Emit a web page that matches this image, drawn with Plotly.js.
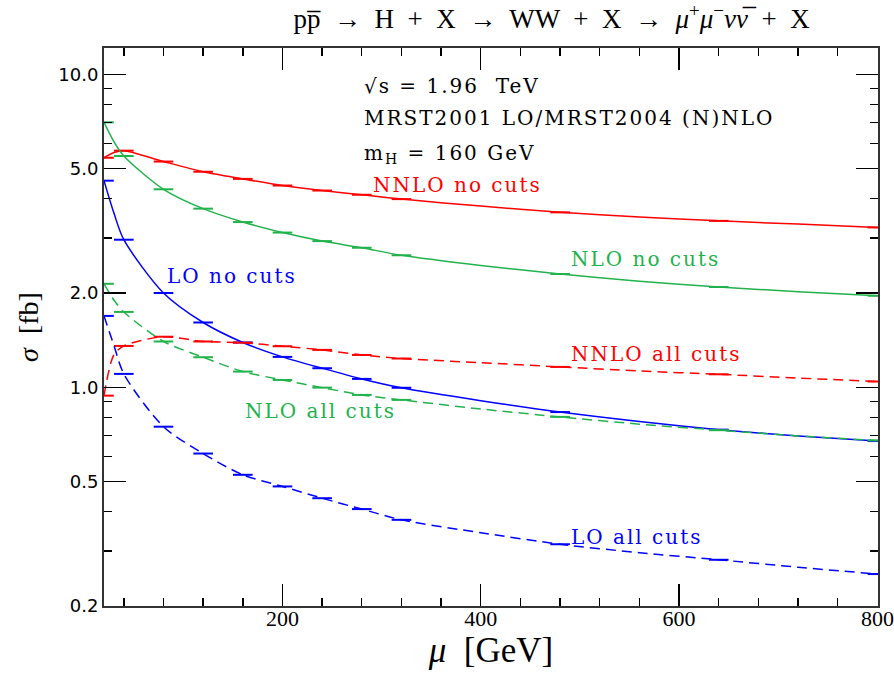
<!DOCTYPE html>
<html>
<head>
<meta charset="utf-8">
<script src="https://cdn.plot.ly/plotly-3.0.1.min.js"></script>
<style>
  html, body { margin: 0; padding: 0; background: #fff; }
  #chart { width: 894px; height: 677px; }
  .annotation-text { letter-spacing: 2px; }
</style>
</head>
<body>
<div id="chart"></div>
<script>
// renormalisation/factorisation scale mu [GeV]
const mu = [20, 30, 40, 80, 120, 160, 200, 240, 280, 320, 400, 480, 560, 640, 720, 800];
// scales at which Monte Carlo points are marked
const markerMu = [20, 40, 80, 120, 160, 200, 240, 280, 320, 480, 640, 800];

// cross sections sigma [fb]
const nnloNoCuts  = [5.41, 5.62, 5.70, 5.26, 4.88, 4.63, 4.41, 4.25, 4.12, 3.99, 3.79, 3.62, 3.50, 3.40, 3.32, 3.24];
const nloNoCuts   = [7.02, 6.09, 5.48, 4.29, 3.72, 3.37, 3.12, 2.93, 2.79, 2.64, 2.45, 2.30, 2.18, 2.09, 2.02, 1.96];
const loNoCuts    = [4.57, 3.60, 2.96, 2.00, 1.61, 1.39, 1.25, 1.15, 1.063, 0.996, 0.906, 0.833, 0.777, 0.732, 0.699, 0.673];
const nnloAllCuts = [0.94, 1.27, 1.355, 1.45, 1.40, 1.388, 1.352, 1.316, 1.268, 1.235, 1.198, 1.161, 1.127, 1.10, 1.07, 1.043];
const nloAllCuts  = [2.14, 1.90, 1.74, 1.40, 1.247, 1.122, 1.055, 0.997, 0.945, 0.911, 0.852, 0.804, 0.762, 0.729, 0.699, 0.676];
const loAllCuts   = [1.69, 1.36, 1.103, 0.748, 0.614, 0.525, 0.482, 0.442, 0.408, 0.377, 0.343, 0.315, 0.296, 0.281, 0.266, 0.253];

// axis ticks
const xTickVals = [200, 400, 600, 800];
const xTickText = ['200', '400', '600', '800'];
const xMinorVals = [40, 80, 120, 160, 240, 280, 320, 360, 440, 480, 520, 560, 640, 680, 720, 760];
const yTickVals = [0.2, 0.5, 1, 2, 5, 10];
const yTickText = ['0.2', '0.5', '1.0', '2.0', '5.0', '10.0'];
const yMinorVals = [0.3, 0.4, 0.6, 0.7, 0.8, 0.9, 3, 4, 6, 7, 8, 9];

// labels
const labels = [
  {text: 'NNLO no cuts', mu: 290, sigma: 4.43, color: 'red'},
  {text: 'NLO no cuts', mu: 490, sigma: 2.57, color: 'green'},
  {text: 'LO no cuts', mu: 82.5, sigma: 2.27, color: 'blue'},
  {text: 'NNLO all cuts', mu: 490, sigma: 1.277, color: 'red'},
  {text: 'NLO all cuts', mu: 161, sigma: 0.84, color: 'green'},
  {text: 'LO all cuts', mu: 490, sigma: 0.333, color: 'blue'}
];
const infoLines = [
  {text: '\u221As = 1.96 \u00a0TeV', mu: 281, sigma: 9.18},
  {text: 'MRST2001 LO/MRST2004 (N)NLO', mu: 281, sigma: 7.25},
  {text: 'm<sub>H</sub> = 160 GeV', mu: 281, sigma: 5.58}
];

const COLORS = {red: '#ff0000', green: '#22b24c', blue: '#0000ff'};

const series = [
  {y: nnloNoCuts, color: 'red', dash: 'solid'},
  {y: nloNoCuts, color: 'green', dash: 'solid'},
  {y: loNoCuts, color: 'blue', dash: 'solid'},
  {y: nnloAllCuts, color: 'red', dash: '10px,6px'},
  {y: nloAllCuts, color: 'green', dash: '10px,6px'},
  {y: loAllCuts, color: 'blue', dash: '10px,6px'}
];

const traces = [];
series.forEach(s => {
  traces.push({
    type: 'scatter', mode: 'lines', x: mu, y: s.y,
    line: {color: COLORS[s.color], width: 1.5, dash: s.dash, shape: 'spline', smoothing: 0.8},
    hoverinfo: 'skip', showlegend: false
  });
  const mx = [], my = [];
  mu.forEach((m, i) => { if (markerMu.includes(m)) { mx.push(m); my.push(s.y[i]); } });
  traces.push({
    type: 'scatter', mode: 'markers', x: mx, y: my,
    marker: {symbol: 'line-ew', size: 14, color: COLORS[s.color], line: {color: COLORS[s.color], width: 2}},
    hoverinfo: 'skip', showlegend: false
  });
});

const annFont = {family: 'DejaVu Serif', size: 20};
const annotations = [];
labels.forEach(l => annotations.push({
  x: l.mu, y: Math.log10(l.sigma), xref: 'x', yref: 'y', text: l.text,
  showarrow: false, xanchor: 'left', yanchor: 'middle', borderpad: 0,
  font: Object.assign({}, annFont, {color: COLORS[l.color]})
}));
infoLines.forEach(l => annotations.push({
  x: l.mu, y: Math.log10(l.sigma), xref: 'x', yref: 'y', text: l.text,
  showarrow: false, xanchor: 'left', yanchor: 'middle', borderpad: 0,
  font: Object.assign({}, annFont, {color: '#000'})
}));

const axisCommon = {
  showgrid: false, zeroline: false, showline: true, linecolor: '#333', linewidth: 2,
  mirror: 'ticks', ticks: 'inside', ticklen: 22, tickwidth: 1.4, tickcolor: '#000'
};

const sp = '\u00a0';
const layout = {
  width: 894, height: 677,
  margin: {l: 104, r: 16, t: 48, b: 71},
  paper_bgcolor: '#fff', plot_bgcolor: '#fff',
  showlegend: false,
  title: {
    text: 'pp\u0305' + sp + ' \u2192 ' + sp + 'H ' + sp + '+' + sp + ' X ' + sp + '\u2192' + sp + ' WW ' + sp + '+' + sp + ' X ' + sp + '\u2192' + sp +
          ' <i>\u03bc</i><sup>+</sup><i>\u03bc</i><sup>\u2212</sup><i>\u03bd\u03bd\u0305</i>' + sp + ' + ' + sp + 'X',
    font: {family: 'Liberation Serif', size: 27, color: '#000'},
    x: 0.617, xanchor: 'center', y: 0.972, yanchor: 'middle'
  },
  xaxis: Object.assign({}, axisCommon, {
    range: [20, 800.6],
    tickmode: 'array', tickvals: xTickVals, ticktext: xTickText,
    tickfont: {family: 'Liberation Serif', size: 22, color: '#000'},
    ticklabelstandoff: -8,
    minor: {tickmode: 'array', tickvals: xMinorVals, ticks: 'inside', ticklen: 8, tickwidth: 1.4, tickcolor: '#000', showgrid: false},
    title: {text: '<i>\u03bc</i>' + sp + ' [GeV]', font: {family: 'Liberation Serif', size: 35, color: '#000'}, standoff: 6}
  }),
  yaxis: Object.assign({}, axisCommon, {
    type: 'log',
    range: [Math.log10(0.2), 1.0838],
    tickmode: 'array', tickvals: yTickVals, ticktext: yTickText,
    tickfont: {family: 'DejaVu Sans', size: 18, color: '#000'},
    minor: {tickmode: 'array', tickvals: yMinorVals, ticks: 'inside', ticklen: 8, tickwidth: 1.4, tickcolor: '#000', showgrid: false},
    title: {text: '<i>\u03c3</i>' + sp + ' [fb]', font: {family: 'Liberation Serif', size: 28, color: '#000'}, standoff: 12}
  }),
  annotations: annotations
};

Plotly.newPlot('chart', traces, layout, {displayModeBar: false, staticPlot: true});
</script>
</body>
</html>
